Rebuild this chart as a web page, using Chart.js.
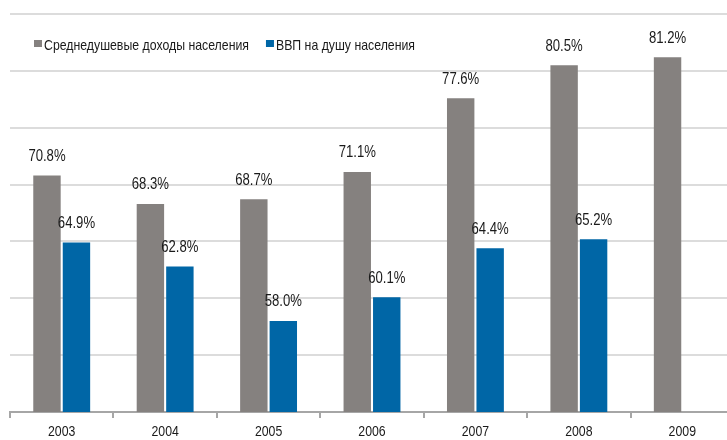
<!DOCTYPE html>
<html>
<head>
<meta charset="utf-8">
<script src="https://cdn.jsdelivr.net/npm/chart.js@4/dist/chart.umd.min.js"></script>
<style>
  html, body { margin: 0; padding: 0; background: #fff; overflow: hidden; }
  #wrap { position: relative; width: 734px; height: 440px; }
</style>
</head>
<body>
<div id="wrap"><canvas id="chart"></canvas></div>
<script>
// Данные с картинки
const years = ['2003', '2004', '2005', '2006', '2007', '2008', '2009'];
const incomeValues = [70.8, 68.3, 68.7, 71.1, 77.6, 80.5, 81.2];
const gdpValues = [64.9, 62.8, 58.0, 60.1, 64.4, 65.2, null];
const seriesNames = ['Среднедушевые доходы населения', 'ВВП на душу населения'];
const seriesColors = ['#85817f', '#0066a6'];

const FONT = '"Liberation Sans", Arial, sans-serif';
// узкого шрифта нет, поэтому сжимаем текст по горизонтали
const NARROW = 0.82;

function narrowText(ctx, text, x, y) {
  ctx.save();
  ctx.translate(x, y);
  ctx.scale(NARROW, 1);
  ctx.fillText(text, 0, 0);
  ctx.restore();
}

// Подписи значений над столбцами
const valueLabels = {
  id: 'valueLabels',
  afterDatasetsDraw(chart) {
    const ctx = chart.ctx;
    ctx.save();
    ctx.font = '16px ' + FONT;
    ctx.fillStyle = '#1a1a1a';
    ctx.textAlign = 'center';
    ctx.textBaseline = 'middle';
    chart.data.datasets.forEach((ds, i) => {
      const meta = chart.getDatasetMeta(i);
      meta.data.forEach((bar, j) => {
        const v = ds.data[j];
        if (v === null || v === undefined) return;
        narrowText(ctx, v.toFixed(1) + '%', bar.x, bar.y - 19);
      });
    });
    ctx.restore();
  }
};

// Годы под осью
const yearLabels = {
  id: 'yearLabels',
  afterDraw(chart) {
    const ctx = chart.ctx;
    const xScale = chart.scales.x;
    ctx.save();
    ctx.font = '15px ' + FONT;
    ctx.fillStyle = '#1a1a1a';
    ctx.textAlign = 'center';
    ctx.textBaseline = 'middle';
    years.forEach((y, i) => {
      narrowText(ctx, y, xScale.getPixelForValue(i), chart.chartArea.bottom + 20);
    });
    ctx.restore();
  }
};

// Легенда внутри области графика
const innerLegend = {
  id: 'innerLegend',
  afterDraw(chart) {
    const ctx = chart.ctx;
    ctx.save();
    ctx.font = '15px ' + FONT;
    ctx.textBaseline = 'middle';
    ctx.textAlign = 'left';
    let x = 34;
    const y = 46;
    chart.data.datasets.forEach(ds => {
      ctx.fillStyle = ds.backgroundColor;
      ctx.fillRect(x, y - 6, 8, 7);
      ctx.fillStyle = '#1a1a1a';
      narrowText(ctx, ds.label, x + 10, y);
      x += 10 + ctx.measureText(ds.label).width * NARROW + 17;
    });
    ctx.restore();
  }
};

new Chart(document.getElementById('chart'), {
  type: 'bar',
  data: {
    labels: years,
    datasets: [
      { label: seriesNames[0], data: incomeValues, backgroundColor: seriesColors[0] },
      { label: seriesNames[1], data: gdpValues, backgroundColor: seriesColors[1] }
    ]
  },
  options: {
    responsive: true,
    maintainAspectRatio: false,
    animation: false,
    categoryPercentage: 0.57,
    barPercentage: 0.93,
    layout: { padding: { left: 10, right: 0, top: 14, bottom: 0 } },
    plugins: {
      legend: { display: false },
      tooltip: { enabled: false }
    },
    scales: {
      x: {
        grid: {
          offset: true,
          drawOnChartArea: false,
          tickLength: 6,
          color: '#a6a6a6',
          lineWidth: 2
        },
        border: { color: '#a6a6a6', width: 2 },
        ticks: {
          color: 'rgba(0,0,0,0)',
          padding: 3.5,
          font: { family: FONT, size: 15, lineHeight: 1 }
        }
      },
      y: {
        min: 50,
        max: 85,
        grid: { color: '#dcdcdc', lineWidth: 2, drawTicks: false },
        border: { display: false },
        ticks: { display: false, stepSize: 5 }
      }
    }
  },
  plugins: [valueLabels, yearLabels, innerLegend]
});
</script>
</body>
</html>
